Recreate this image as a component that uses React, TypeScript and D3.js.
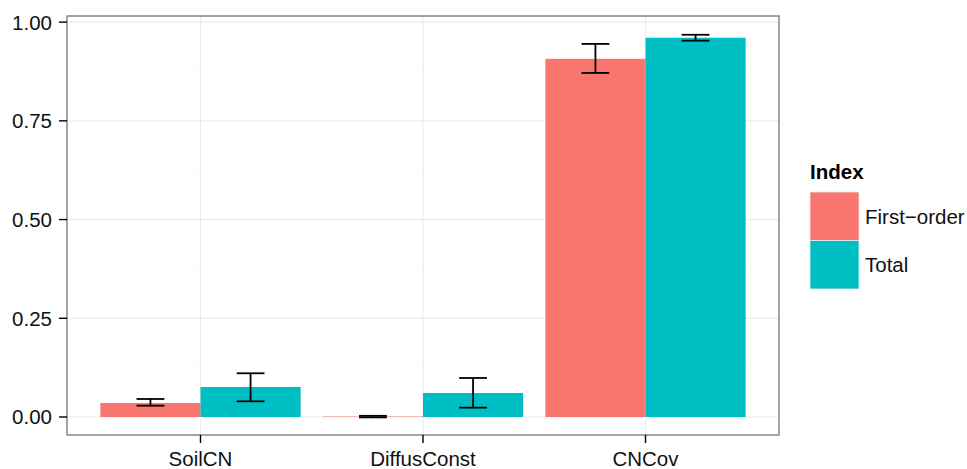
import React, { useRef, useEffect } from 'react';
import * as d3 from 'd3';

const categories = ['SoilCN', 'DiffusConst', 'CNCov'];
const seriesNames = ['First\u2212order', 'Total'];
const seriesColors = ['#F8766D', '#00BFC4'];
// value, lower, upper per category
const firstOrder = [0.0355, 0.0012, 0.907];
const firstOrderLow = [0.0287, -0.001, 0.8713];
const firstOrderHigh = [0.0456, 0.003, 0.9448];
const total = [0.076, 0.0608, 0.9605];
const totalLow = [0.0397, 0.0236, 0.953];
const totalHigh = [0.1107, 0.0988, 0.968];
const yTicks = [0, 0.25, 0.5, 0.75, 1];
const yMinor = [0.125, 0.375, 0.625, 0.875];

export default function App() {
    const svgRef = useRef<SVGSVGElement>(null);

    useEffect(() => {
        const svg = d3.select(svgRef.current);
        svg.selectAll('*').remove();

        const width = 967, height = 469;
        const margin = { top: 16, right: 188, bottom: 34, left: 67 };
        const pw = width - margin.left - margin.right;
        const ph = height - margin.top - margin.bottom;
        const font = 'Liberation Sans, Arial, sans-serif';
        const fs = 20.5;

        const y = d3.scaleLinear().domain([-0.0456, 1.0155]).range([ph, 0]);
        // discrete scale with 0.6 expansion on each side
        const x = d3.scaleLinear().domain([0.4, categories.length + 0.6]).range([0, pw]);
        const unit = x(2) - x(1);

        const g = svg.append('g').attr('transform', `translate(${margin.left},${margin.top})`);

        // grid
        g.selectAll('.minor').data(yMinor).join('line')
            .attr('x1', 0).attr('x2', pw)
            .attr('y1', d => y(d)).attr('y2', d => y(d))
            .attr('stroke', '#fafafa').attr('stroke-width', 1);
        g.selectAll('.majory').data(yTicks).join('line')
            .attr('x1', 0).attr('x2', pw)
            .attr('y1', d => y(d)).attr('y2', d => y(d))
            .attr('stroke', '#ebebeb').attr('stroke-width', 1.2);
        g.selectAll('.majorx').data(categories).join('line')
            .attr('x1', (d, i) => x(i + 1)).attr('x2', (d, i) => x(i + 1))
            .attr('y1', 0).attr('y2', ph)
            .attr('stroke', '#ebebeb').attr('stroke-width', 1.2);

        const series = [
            { vals: firstOrder, lo: firstOrderLow, hi: firstOrderHigh },
            { vals: total, lo: totalLow, hi: totalHigh },
        ];
        const barW = unit * 0.45;
        const capW = unit * 0.125;

        series.forEach((s, si) => {
            const cx = (i: number) => x(i + 1) - barW + si * barW + barW / 2;
            g.append('g').selectAll('rect').data(s.vals).join('rect')
                .attr('x', (d, i) => x(i + 1) - barW + si * barW)
                .attr('width', barW)
                .attr('y', d => y(d))
                .attr('height', d => y(0) - y(d))
                .attr('fill', seriesColors[si]);

            const eb = g.append('g').attr('stroke', '#000').attr('stroke-width', 1.8).attr('fill', 'none');
            s.vals.forEach((d, i) => {
                const c = cx(i);
                eb.append('line').attr('x1', c).attr('x2', c).attr('y1', y(s.lo[i])).attr('y2', y(s.hi[i]));
                eb.append('line').attr('x1', c - capW / 2).attr('x2', c + capW / 2).attr('y1', y(s.lo[i])).attr('y2', y(s.lo[i]));
                eb.append('line').attr('x1', c - capW / 2).attr('x2', c + capW / 2).attr('y1', y(s.hi[i])).attr('y2', y(s.hi[i]));
            });
        });

        // panel border
        g.append('rect').attr('x', 0).attr('y', 0).attr('width', pw).attr('height', ph)
            .attr('fill', 'none').attr('stroke', '#7f7f7f').attr('stroke-width', 1.4);

        // y axis
        const ya = g.append('g');
        ya.selectAll('line').data(yTicks).join('line')
            .attr('x1', -8).attr('x2', 0).attr('y1', d => y(d)).attr('y2', d => y(d))
            .attr('stroke', '#000').attr('stroke-width', 1.4);
        ya.selectAll('text').data(yTicks).join('text')
            .attr('x', -15).attr('y', d => y(d)).attr('dy', '0.36em')
            .attr('text-anchor', 'end').attr('font-family', font).attr('font-size', fs)
            .attr('fill', '#111').text(d => d3.format('.2f')(d));

        // x axis
        const xa = g.append('g');
        xa.selectAll('line').data(categories).join('line')
            .attr('x1', (d, i) => x(i + 1)).attr('x2', (d, i) => x(i + 1))
            .attr('y1', ph).attr('y2', ph + 8)
            .attr('stroke', '#000').attr('stroke-width', 1.4);
        xa.selectAll('text').data(categories).join('text')
            .attr('x', (d, i) => x(i + 1)).attr('y', ph + 31)
            .attr('text-anchor', 'middle').attr('font-family', font).attr('font-size', fs)
            .attr('fill', '#111').text(d => d);

        // legend
        const lg = svg.append('g').attr('transform', 'translate(810,179)');
        lg.append('text').attr('x', 0).attr('y', 0).attr('font-family', font)
            .attr('font-size', fs).attr('font-weight', 'bold').attr('fill', '#000').text('Index');
        const keyH = 48.5;
        seriesNames.forEach((name, i) => {
            lg.append('rect').attr('x', 0).attr('y', 13 + i * keyH).attr('width', 49).attr('height', keyH)
                .attr('fill', seriesColors[i]).attr('stroke', '#ebebeb').attr('stroke-width', 0.8);
            lg.append('text').attr('x', 55).attr('y', 13 + i * keyH + keyH / 2).attr('dy', '0.36em')
                .attr('font-family', font).attr('font-size', fs).attr('fill', '#111').text(name);
        });
    }, []);

    return (
        <svg ref={svgRef} width={967} height={469} style={{ position: 'absolute', left: 0, top: 0 }} />
    );
}
